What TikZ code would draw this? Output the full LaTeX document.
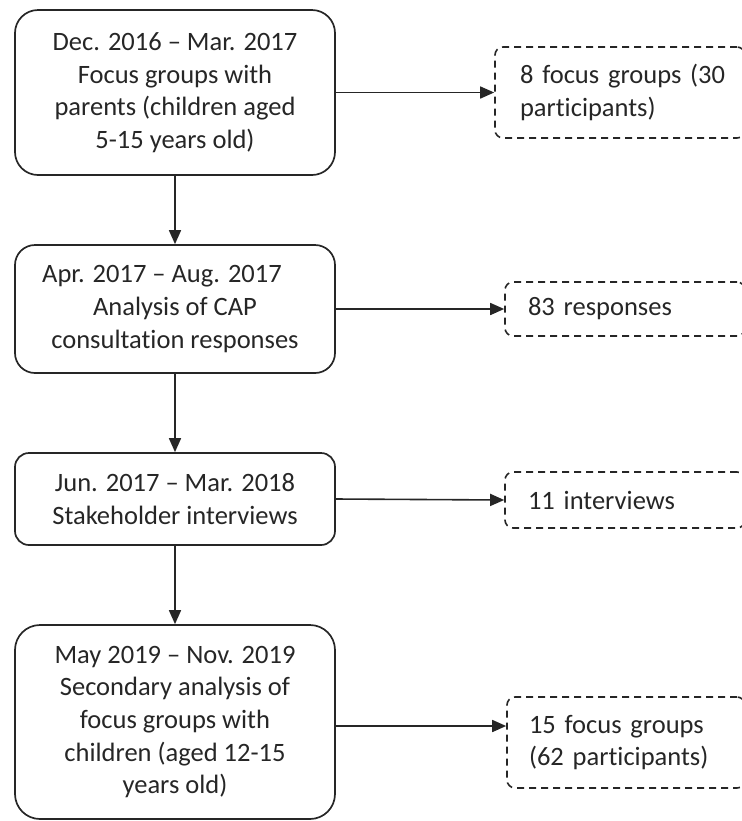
\documentclass[tikz,border=0pt]{standalone}
\usepackage{fontspec}
\setmainfont{Carlito}[Ligatures={NoCommon}]
\usetikzlibrary{arrows.meta}
\definecolor{ink}{HTML}{262626}
\begin{document}
\begin{tikzpicture}[x=0.5pt,y=-0.5pt,
  txt/.style={font=\fontsize{13.25}{16.3}\selectfont, text=ink},
  stage/.style={txt, draw=ink, line width=0.85pt, rounded corners=#1,
    minimum width=160pt, align=center, inner sep=0pt},
  stage/.default=11pt,
  result/.style={txt, draw=ink, line width=0.8pt, dash pattern=on 3.5pt off 2.5pt,
    rounded corners=4pt, align=left, inner ysep=0pt},
  arr/.style={draw=ink, line width=0.8pt, -{Triangle[length=7pt,width=6pt]}}
]
\useasboundingbox (0,0) rectangle (742,821);
\clip (0,0) rectangle (742,821);

% stages of the study (left column)
\node[stage=11.5pt, minimum height=82.5pt] (b1) at (175,92.5)
  {Dec. 2016 – Mar. 2017\\Focus groups with\\parents (children aged\\5-15 years old)};
\node[stage=10pt, minimum height=64pt] (b2) at (175,309)
  {Apr. 2017 – Aug. 2017\hspace*{13pt}\\Analysis of CAP\\consultation responses};
\node[stage=7pt, minimum height=46pt] (b3) at (175,499)
  {Jun. 2017 – Mar. 2018\\Stakeholder interviews};
\node[stage=12.5pt, minimum height=97pt] (b4) at (175,722)
  {May 2019 – Nov. 2019\\Secondary analysis of\\focus groups with\\children (aged 12-15\\years old)};

% outputs of each stage (right column)
\node[result, inner xsep=12.5pt, text width=100pt, minimum height=45.5pt] (r1) at (620,92.5)
  {\mbox{8 focus groups (30}\\participants)};
\node[result, inner xsep=11.5pt, text width=97pt, minimum height=27pt] (r2) at (625,309)
  {83 responses};
\node[result, inner xsep=11.5pt, text width=97pt, minimum height=28pt] (r3) at (625,500)
  {11 interviews};
\node[result, inner xsep=11pt, text width=97pt, minimum height=45.5pt] (r4) at (626,742.5)
  {15 focus groups\\(62 participants)};

% sequence of stages
\draw[arr] (b1.south) -- (b2.north);
\draw[arr] (b2.south) -- (b3.north);
\draw[arr] (b3.south) -- (b4.north);

% links to outputs
\draw[arr] (b1.east) -- (r1.west);
\draw[arr] (b2.east) -- (r2.west);
\draw[arr] (b3.east) -- (r3.west);
\coordinate (a4) at ([yshift=-2pt]b4.east);
\draw[arr] (a4) -- (a4 -| r4.west);
\end{tikzpicture}
\end{document}
